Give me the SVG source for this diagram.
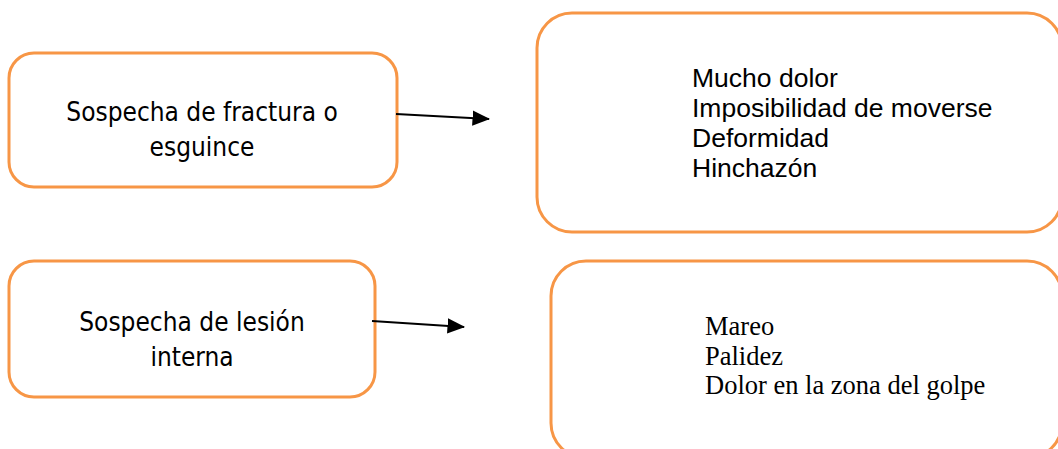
<svg xmlns="http://www.w3.org/2000/svg" width="1058" height="449" viewBox="0 0 1058 449">
<style>
.box{fill:#ffffff;stroke:#F79646;stroke-width:3}
.lt{font-family:"DejaVu Sans Condensed","DejaVu Sans",sans-serif;font-stretch:condensed;font-size:26px;fill:#000;text-anchor:middle}
.ar{font-family:"Liberation Sans",Arial,sans-serif;font-size:26.5px;fill:#000}
.tr{font-family:"Liberation Serif","Times New Roman",serif;font-size:26.5px;fill:#000}
.conn{stroke:#000;stroke-width:2.2;fill:none;marker-end:url(#ah)}
</style>
<defs>
<marker id="ah" markerWidth="8" markerHeight="7" refX="7.5" refY="3.5" orient="auto" markerUnits="strokeWidth">
<path d="M0,0 L8,3.5 L0,7 Z" fill="#000"/>
</marker>
</defs>
<rect width="1058" height="449" fill="#ffffff"/>
<g id="node-fractura">
<rect class="box" x="9" y="53" width="388" height="134" rx="25"/>
<text class="lt" x="202" y="121">Sospecha de fractura o</text>
<text class="lt" x="202" y="156">esguince</text>
</g>
<g id="node-sintomas-fractura">
<rect class="box" x="537" y="13" width="525" height="219" rx="35"/>
<text class="ar" x="692" y="87">Mucho dolor</text>
<text class="ar" x="692" y="117">Imposibilidad de moverse</text>
<text class="ar" x="692" y="147">Deformidad</text>
<text class="ar" x="692" y="177">Hinchazón</text>
</g>
<g id="node-lesion">
<rect class="box" x="9" y="261" width="366" height="136" rx="25"/>
<text class="lt" x="192" y="331">Sospecha de lesión</text>
<text class="lt" x="192" y="366">interna</text>
</g>
<g id="node-sintomas-lesion">
<rect class="box" x="551" y="261" width="511" height="197" rx="35"/>
<text class="tr" x="705" y="335">Mareo</text>
<text class="tr" x="705" y="365">Palidez</text>
<text class="tr" x="705" y="394">Dolor en la zona del golpe</text>
</g>
<g id="connectors">
<line class="conn" x1="396" y1="114" x2="489" y2="119"/>
<line class="conn" x1="372" y1="321" x2="464" y2="327"/>
</g>
</svg>
